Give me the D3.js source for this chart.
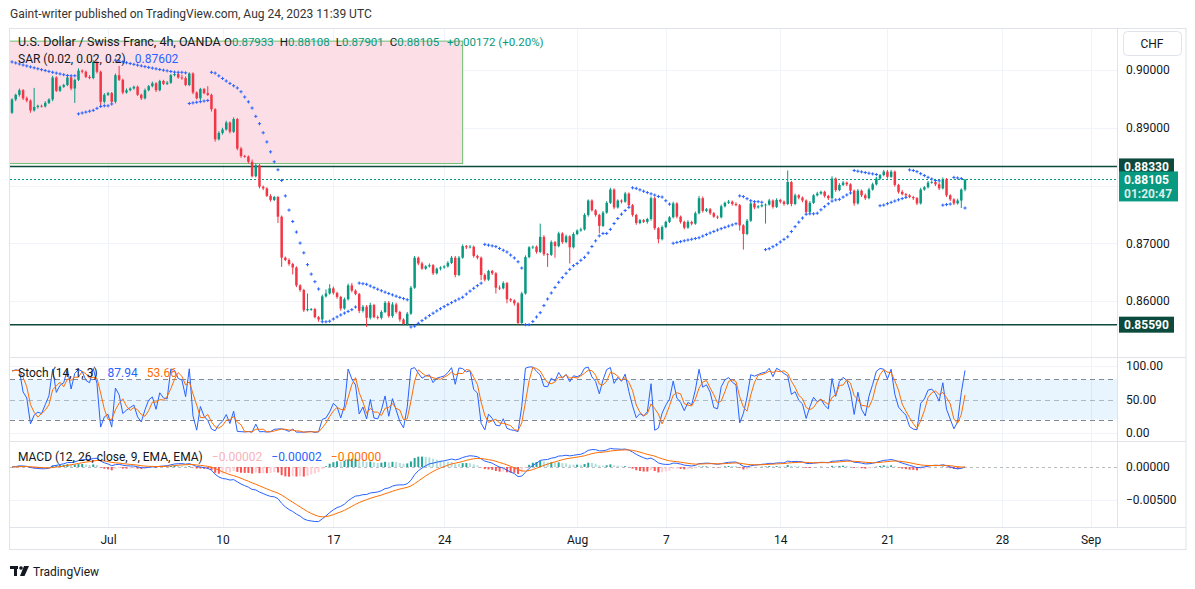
<!DOCTYPE html>
<html>
<head>
<meta charset="utf-8">
<script src="https://cdnjs.cloudflare.com/ajax/libs/d3/7.8.5/d3.min.js"></script>
<style>
  body { margin: 0; background: #fff; }
  svg { display: block; font-family: Roboto, 'Open Sans', sans-serif; }
</style>
</head>
<body>
<script>
// USD/CHF 4h closes (bar 0 = Jun 28)
const closes = [
  0.8949,0.8957,0.8965,0.8951,0.8947,0.8930,0.8936,0.8938,0.8937,0.8943,
  0.8949,0.8987,0.8964,0.8971,0.8974,0.8987,0.8968,0.8983,0.8999,0.8997,
  0.8988,0.8986,0.9014,0.8997,0.8945,0.8957,0.8960,0.8945,0.8991,0.8983,
  0.8961,0.8965,0.8968,0.8971,0.8957,0.8951,0.8965,0.8972,0.8977,0.8965,
  0.8981,0.8976,0.8978,0.8991,0.8993,0.8987,0.8986,0.8974,0.8994,0.8961,
  0.8951,0.8967,0.8960,0.8957,0.8932,0.8880,0.8891,0.8897,0.8909,0.8893,
  0.8915,0.8864,0.8851,0.8850,0.8841,0.8816,0.8835,0.8798,0.8795,0.8782,
  0.8775,0.8780,0.8746,0.8675,0.8671,0.8664,0.8658,0.8627,0.8619,0.8584,
  0.8586,0.8586,0.8572,0.8568,0.8608,0.8613,0.8622,0.8614,0.8607,0.8587,
  0.8603,0.8627,0.8618,0.8612,0.8583,0.8590,0.8571,0.8593,0.8572,0.8571,
  0.8581,0.8597,0.8574,0.8594,0.8581,0.8568,0.8560,0.8578,0.8623,0.8675,
  0.8665,0.8656,0.8660,0.8662,0.8648,0.8656,0.8658,0.8660,0.8666,0.8675,
  0.8645,0.8675,0.8695,0.8693,0.8694,0.8678,0.8675,0.8645,0.8637,0.8652,
  0.8648,0.8623,0.8622,0.8631,0.8603,0.8601,0.8596,0.8562,0.8613,0.8676,
  0.8693,0.8694,0.8685,0.8711,0.8681,0.8680,0.8702,0.8695,0.8717,0.8702,
  0.8712,0.8693,0.8716,0.8722,0.8724,0.8749,0.8774,0.8757,0.8749,0.8730,
  0.8753,0.8770,0.8793,0.8762,0.8774,0.8772,0.8786,0.8766,0.8749,0.8735,
  0.8740,0.8737,0.8742,0.8778,0.8726,0.8707,0.8728,0.8737,0.8745,0.8769,
  0.8746,0.8737,0.8727,0.8737,0.8734,0.8752,0.8778,0.8756,0.8759,0.8752,
  0.8746,0.8745,0.8764,0.8770,0.8772,0.8768,0.8766,0.8731,0.8716,0.8739,
  0.8769,0.8762,0.8764,0.8766,0.8767,0.8774,0.8763,0.8775,0.8772,0.8768,
  0.8806,0.8768,0.8783,0.8779,0.8774,0.8754,0.8770,0.8783,0.8786,0.8789,
  0.8782,0.8778,0.8812,0.8792,0.8801,0.8805,0.8802,0.8791,0.8769,0.8791,
  0.8783,0.8778,0.8793,0.8802,0.8812,0.8818,0.8824,0.8815,0.8824,0.8801,
  0.8789,0.8785,0.8783,0.8780,0.8778,0.8769,0.8793,0.8797,0.8805,0.8806,
  0.8802,0.8795,0.8811,0.8783,0.8776,0.8769,0.8774,0.8793,0.88105
]
const firstOpen = 0.8926
// wick lengths beyond the body, in pips
const upperWicks = [
  2,2,3,2,3,2,33,2,2,3, 2,3,2,2,2,3,2,2,4,2, 2,3,3,2,2,3,2,2,3,16,
  2,3,2,2,2,2,3,2,3,2, 2,2,3,2,3,2,5,3,2,2, 2,2,2,12,2,2,3,3,3,2,
  3,2,3,2,2,4,3,2,2,2, 3,2,2,2,2,3,2,2,2,2, 27,2,2,2,3,7,7,3,2,2,
  3,3,4,2,2,3,3,4,2,3, 3,3,3,4,3,2,2,3,3,3, 2,3,2,3,2,2,2,2,3,3,
  3,3,3,2,3,2,2,2,3,2, 2,2,4,3,2,2,2,2,3,3, 2,2,2,23,3,2,3,2,3,2,
  3,2,3,2,3,3,2,2,2,2, 3,3,3,2,2,2,3,2,2,2, 2,2,2,3,2,2,3,2,2,3,
  2,2,2,3,2,3,4,3,2,2, 2,2,3,2,3,2,3,2,2,3, 3,2,2,2,2,3,2,3,2,2,
  20,2,3,2,2,2,3,2,3,2, 2,2,4,2,3,3,2,2,2,3, 2,3,3,3,3,2,3,3,3,2,
  2,3,2,2,2,2,3,2,3,2, 2,3,3,2,2,2,3,2,0
]
const lowerWicks = [
  2,3,3,3,3,4,2,3,2,2, 2,3,2,2,2,2,3,25,2,3, 2,2,2,3,7,3,2,2,3,2,
  3,2,2,2,2,3,2,2,2,3, 2,2,2,2,2,2,3,2,2,3, 2,3,2,2,4,4,2,3,2,3,
  2,3,3,2,3,2,2,3,3,2, 3,2,11,16,2,3,12,3,3,3, 2,3,2,4,3,2,2,3,3,4,
  2,2,3,2,4,3,16,3,2,3, 3,2,3,3,3,4,3,3,2,2, 3,2,2,2,3,2,3,2,2,2,
  4,2,2,3,2,3,3,9,3,2, 3,10,3,2,7,3,4,3,3,2, 2,3,3,2,3,21,2,20,2,3,
  2,28,2,2,2,2,3,2,3,13, 2,2,2,3,2,3,2,3,3,3, 2,2,3,3,3,7,2,2,2,2,
  3,3,3,2,3,2,2,3,2,3, 2,3,2,2,2,3,2,9,27,2, 2,3,2,2,32,2,3,2,3,3,
  2,4,2,3,3,3,2,2,2,2, 3,3,2,3,2,2,3,3,4,2, 3,3,2,2,2,2,2,3,2,3,
  3,2,3,2,3,3,2,2,2,2, 3,3,2,3,3,3,2,13,3
]
const sarStart = 0.9014

const tickBars = [26, 57, 87, 117, 153, 177, 208, 237, 268, 292]
const tickLabels = ['Jul', '10', '17', '24', 'Aug', '7', '14', '21', '28', 'Sep']
const priceTicks = [0.86, 0.87, 0.89, 0.90]
const stochTicks = [0, 50, 100]
const macdTicks = [-0.005, 0]
const levelLines = [0.8833, 0.8559]
const zoneTop = 0.9050, zoneBottom = 0.8838, zoneEndBar = 122

const header = 'Gaint-writer published on TradingView.com, Aug 24, 2023 11:39 UTC'
const lastOHLC = { o: '0.87933', h: '0.88108', l: '0.87901', c: '0.88105', chg: '+0.00172 (+0.20%)' }

const W = 1195, H = 589
const left = 10, plotRight = 1117, frameRight = 1186
const green = '#089981', red = '#f23645', blue = '#2962ff', orange = '#ff6d00'
const dark = '#0b4a3c', gridColor = '#f0f3fa', lineColor = '#e0e3eb', textColor = '#131722'

const bars = closes.map((c, i) => {
  const o = i ? closes[i - 1] : firstOpen
  return {
    i, open: o, close: c,
    high: Math.max(o, c) + upperWicks[i] / 10000,
    low: Math.min(o, c) - lowerWicks[i] / 10000
  }
})

// indicators from the bars
const sar = (() => {
  const out = [sarStart]
  let up = false, s = sarStart, ep = bars[0].low, af = 0.02
  for (let i = 1; i < bars.length; i++) {
    const b = bars[i], p = bars[i - 1], pp = bars[Math.max(0, i - 2)]
    s = s + af * (ep - s)
    if (up) {
      s = Math.min(s, p.low, pp.low)
      if (b.low < s) { up = false; s = ep; ep = b.low; af = 0.02 }
      else if (b.high > ep) { ep = b.high; af = Math.min(af + 0.02, 0.2) }
    } else {
      s = Math.max(s, p.high, pp.high)
      if (b.high > s) { up = true; s = ep; ep = b.high; af = 0.02 }
      else if (b.low < ep) { ep = b.low; af = Math.min(af + 0.02, 0.2) }
    }
    out.push(s)
  }
  return out
})()

const stochK = bars.map((b, i) => {
  const win = bars.slice(Math.max(0, i - 13), i + 1)
  const hh = d3.max(win, d => d.high), ll = d3.min(win, d => d.low)
  return hh === ll ? 50 : 100 * (b.close - ll) / (hh - ll)
})
const stochD = stochK.map((k, i) => d3.mean(stochK.slice(Math.max(0, i - 2), i + 1)))

const ema = (arr, n) => {
  const a = 2 / (n + 1)
  let e = arr[0]
  return arr.map(v => (e = a * v + (1 - a) * e))
}
const ema12 = ema(closes, 12), ema26 = ema(closes, 26)
const macd = closes.map((c, i) => ema12[i] - ema26[i])
const signal = ema(macd, 9)
const hist = macd.map((m, i) => m - signal[i])

const svg = d3.select('body').append('svg')
  .attr('width', W)
  .attr('height', H)

const x = d3.scaleLinear().domain([0, 258]).range([12, 965])
const yPrice = d3.scaleLinear().domain([0.86, 0.90]).range([301, 70])
const yStoch = d3.scaleLinear().domain([0, 100]).range([433, 366])
const yMacd = d3.scaleLinear().domain([-0.005, 0]).range([500, 467])

const panes = [
  { top: 28, bottom: 357 },
  { top: 357, bottom: 441 },
  { top: 441, bottom: 527 }
]

svg.append('text')
  .attr('x', 10).attr('y', 18)
  .attr('font-size', 12).attr('fill', '#333')
  .text(header)

const defs = svg.append('defs')
panes.forEach((p, k) => {
  defs.append('clipPath').attr('id', 'clip' + k)
    .append('rect')
    .attr('x', left).attr('y', p.top)
    .attr('width', plotRight - left).attr('height', p.bottom - p.top)
})

// grid
const grid = svg.append('g')
tickBars.forEach(t => {
  grid.append('line')
    .attr('x1', Math.round(x(t)) + 0.5).attr('x2', Math.round(x(t)) + 0.5)
    .attr('y1', 28).attr('y2', 527)
    .attr('stroke', gridColor)
})
const hGrid = (ticks, scale) => ticks.forEach(t => {
  grid.append('line')
    .attr('x1', left).attr('x2', plotRight)
    .attr('y1', Math.round(scale(t)) + 0.5).attr('y2', Math.round(scale(t)) + 0.5)
    .attr('stroke', gridColor)
})
hGrid([0.86, 0.87, 0.88, 0.89, 0.90], yPrice)
hGrid([0, 100], yStoch)
hGrid([-0.005], yMacd)

// price pane
const pricePane = svg.append('g').attr('clip-path', 'url(#clip0)')

pricePane.append('rect')
  .attr('x', left - 2).attr('y', yPrice(zoneTop))
  .attr('width', x(zoneEndBar) - left + 2)
  .attr('height', yPrice(zoneBottom) - yPrice(zoneTop))
  .attr('fill', '#fcdfe6')
  .attr('stroke', '#6cc070').attr('stroke-width', 1)

levelLines.forEach(v => {
  pricePane.append('line')
    .attr('x1', left).attr('x2', plotRight)
    .attr('y1', yPrice(v)).attr('y2', yPrice(v))
    .attr('stroke', dark).attr('stroke-width', 1.4)
})

pricePane.append('line')
  .attr('x1', left).attr('x2', plotRight)
  .attr('y1', Math.round(yPrice(closes[closes.length - 1])) + 0.5)
  .attr('y2', Math.round(yPrice(closes[closes.length - 1])) + 0.5)
  .attr('stroke', '#089981').attr('stroke-width', 1).attr('stroke-dasharray', '2,2')
  .attr('shape-rendering', 'crispEdges')

const candle = pricePane.selectAll('g.candle').data(bars).enter().append('g')
  .attr('fill', d => d.close >= d.open ? green : red)
  .attr('stroke', d => d.close >= d.open ? green : red)
candle.append('line')
  .attr('x1', d => x(d.i)).attr('x2', d => x(d.i))
  .attr('y1', d => yPrice(d.high)).attr('y2', d => yPrice(d.low))
  .attr('stroke-width', 1)
candle.append('rect')
  .attr('x', d => x(d.i) - 1.25)
  .attr('width', 2.5)
  .attr('y', d => yPrice(Math.max(d.open, d.close)))
  .attr('height', d => Math.max(0.8, Math.abs(yPrice(d.open) - yPrice(d.close))))
  .attr('stroke', 'none')

pricePane.selectAll('path.sar').data(sar).enter().append('path')
  .attr('d', (v, i) => {
    const cx = x(i), cy = yPrice(v)
    return `M${cx - 1.6},${cy}H${cx + 1.6}M${cx},${cy - 1.6}V${cy + 1.6}`
  })
  .attr('stroke', blue).attr('stroke-width', 1)

// stoch pane
const stochPane = svg.append('g').attr('clip-path', 'url(#clip1)')
stochPane.append('rect')
  .attr('x', left).attr('width', plotRight - left)
  .attr('y', yStoch(80)).attr('height', yStoch(20) - yStoch(80))
  .attr('fill', 'rgba(33,150,243,0.1)')
;[[80, 0.9], [50, 0.5], [20, 0.9]].forEach(([v, op]) => {
  stochPane.append('line')
    .attr('x1', left).attr('x2', plotRight)
    .attr('y1', Math.round(yStoch(v)) + 0.5).attr('y2', Math.round(yStoch(v)) + 0.5)
    .attr('stroke', '#787b86').attr('stroke-opacity', op)
    .attr('stroke-dasharray', '5,4')
})
const stochLine = d3.line().x((d, i) => x(i)).y(d => yStoch(d))
stochPane.append('path').attr('d', stochLine(stochK))
  .attr('fill', 'none').attr('stroke', blue).attr('stroke-width', 1)
stochPane.append('path').attr('d', stochLine(stochD))
  .attr('fill', 'none').attr('stroke', orange).attr('stroke-width', 1)

// macd pane
const macdPane = svg.append('g').attr('clip-path', 'url(#clip2)')
macdPane.append('line')
  .attr('x1', left).attr('x2', plotRight)
  .attr('y1', Math.round(yMacd(0)) + 0.5).attr('y2', Math.round(yMacd(0)) + 0.5)
  .attr('stroke', '#787b86').attr('stroke-opacity', 0.5)
  .attr('stroke-dasharray', '3,3')
macdPane.selectAll('rect.hist').data(hist).enter().append('rect')
  .attr('x', (d, i) => x(i) - 1)
  .attr('width', 2)
  .attr('y', d => Math.min(yMacd(d), yMacd(0)))
  .attr('height', d => Math.abs(yMacd(d) - yMacd(0)))
  .attr('fill', (d, i) => {
    const prev = i ? hist[i - 1] : d
    if (d >= 0) return d >= prev ? '#26a69a' : '#b2dfdb'
    return d < prev ? '#ff5252' : '#ffcdd2'
  })
const macdLine = d3.line().x((d, i) => x(i)).y(d => yMacd(d))
macdPane.append('path').attr('d', macdLine(macd))
  .attr('fill', 'none').attr('stroke', blue).attr('stroke-width', 1)
macdPane.append('path').attr('d', macdLine(signal))
  .attr('fill', 'none').attr('stroke', orange).attr('stroke-width', 1)

// frame and separators
const frame = svg.append('g').attr('stroke', lineColor).attr('fill', 'none')
frame.append('rect').attr('x', 9.5).attr('y', 28.5).attr('width', frameRight - 9.5).attr('height', 521)
frame.append('line').attr('x1', plotRight + 0.5).attr('x2', plotRight + 0.5).attr('y1', 28).attr('y2', 527)
;[357.5, 441.5, 527.5].forEach(yy => {
  frame.append('line').attr('x1', 9).attr('x2', frameRight).attr('y1', yy).attr('y2', yy)
})

// axes
const axisText = sel => sel.call(g => g.select('.domain').remove())
  .call(g => g.selectAll('text').attr('fill', textColor).attr('font-size', 12)
    .attr('font-family', 'Roboto, sans-serif'))

svg.append('g').attr('transform', `translate(${plotRight + 3},0)`)
  .call(d3.axisRight(yPrice).tickValues(priceTicks).tickFormat(d3.format('.5f')).tickSize(0).tickPadding(6))
  .call(axisText)
svg.append('g').attr('transform', `translate(${plotRight + 3},0)`)
  .call(d3.axisRight(yStoch).tickValues(stochTicks).tickFormat(d3.format('.2f')).tickSize(0).tickPadding(6))
  .call(axisText)
svg.append('g').attr('transform', `translate(${plotRight + 3},0)`)
  .call(d3.axisRight(yMacd).tickValues(macdTicks)
    .tickFormat(d => d3.format('.5f')(d).replace('-', '\u2212')).tickSize(0).tickPadding(6))
  .call(axisText)
svg.append('g').attr('transform', 'translate(0,531)')
  .call(d3.axisBottom(x).tickValues(tickBars).tickFormat((d, i) => tickLabels[i]).tickSize(0).tickPadding(4))
  .call(axisText)

// currency box
svg.append('rect').attr('x', 1123.5).attr('y', 31.5).attr('width', 58).attr('height', 24).attr('rx', 4)
  .attr('fill', '#fff').attr('stroke', lineColor)
svg.append('text').attr('x', 1152).attr('y', 47.5).attr('text-anchor', 'middle')
  .attr('font-size', 12).attr('fill', textColor).text('CHF')

// price tags
const tag = (v, fill, lines) => {
  const yy = yPrice(v)
  const h = lines.length * 14 + 2
  svg.append('rect').attr('x', 1119).attr('y', yy - 8).attr('width', lines.length > 1 ? 59 : 55)
    .attr('height', h).attr('fill', fill)
  lines.forEach((t, k) => {
    svg.append('text').attr('x', 1124).attr('y', yy + 4.5 + k * 14)
      .attr('font-size', 12).attr('font-weight', 700)
      .attr('fill', k ? 'rgba(255,255,255,0.85)' : '#fff').text(t)
  })
}
tag(levelLines[0], dark, ['0.88330'])
tag(levelLines[1], dark, ['0.85590'])
tag(closes[closes.length - 1], green, ['0.88105', '01:20:47'])

// legends: one text per line, parts flow with gaps
const legend = (xx, yy, parts, size) => {
  const t = svg.append('text').attr('x', xx).attr('y', yy).attr('font-size', size || 12)
  parts.forEach(([s, c, dx]) => t.append('tspan').attr('dx', dx || 0).attr('fill', c).text(s))
}
legend(18, 46, [['U.S. Dollar / Swiss Franc, 4h, OANDA', textColor]], 12.5)
legend(224, 46, [
  ['O', textColor], [lastOHLC.o, green],
  ['H', textColor, 6], [lastOHLC.h, green],
  ['L', textColor, 6], [lastOHLC.l, green],
  ['C', textColor, 6], [lastOHLC.c, green],
  [lastOHLC.chg, green, 8]
], 11.5)
legend(18, 63, [['SAR (0.02, 0.02, 0.2)', textColor], ['0.87602', blue, 9]])
legend(18, 377, [['Stoch (14, 1, 3)', textColor], ['87.94', blue, 10], ['53.66', orange, 9]])
legend(18, 461, [['MACD (12, 26, close, 9, EMA, EMA)', textColor], ['\u22120.00002', '#f7b3bb', 9],
  ['\u22120.00002', blue, 9], ['\u22120.00000', orange, 9]])

// footer logo
const logo = svg.append('g').attr('transform', 'translate(10,566)').attr('fill', '#131722')
logo.append('rect').attr('x', 0).attr('y', 0).attr('width', 8).attr('height', 3)
logo.append('rect').attr('x', 4).attr('y', 0).attr('width', 3).attr('height', 10)
logo.append('circle').attr('cx', 11).attr('cy', 2).attr('r', 1.8)
logo.append('path').attr('d', 'M14,0H19L14.5,10H10Z')
svg.append('text').attr('x', 33).attr('y', 576).attr('font-size', 12).attr('fill', '#131722')
  .text('TradingView')
</script>
</body>
</html>
